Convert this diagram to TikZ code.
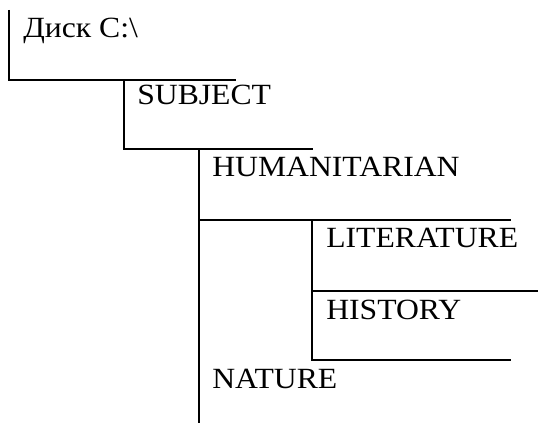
\documentclass[tikz,border=0pt]{standalone}
\usepackage{fontspec}
\setmainfont[FakeStretch=1.08]{Liberation Serif}
\usepackage{tikz}

\tikzset{
  folder/.style={anchor=base west, inner sep=0pt, font=\fontsize{22}{26}\selectfont},
  branch/.style={line width=1.6pt}
}

\begin{document}
\begin{tikzpicture}[x=0.75pt,y=-0.75pt]
        \useasboundingbox (0,0) rectangle (538,423);
        \node[folder] (disk) at (23,38) {Диск C:\textbackslash};
        \node[folder] (subject) at (137,105) {SUBJECT};
        \node[folder] (human) at (212,177) {HUMANITARIAN};
        \node[folder] (lit) at (326,248) {LITERATURE};
        \node[folder] (hist) at (326,320) {HISTORY};
        \node[folder] (nature) at (212,388) {NATURE};

        \coordinate (disktop) at (9,10);
        \coordinate (diskbot) at (9,80);
        \coordinate (diskend) at (236,80);
        \coordinate (subbot) at (124,149);
        \coordinate (subend) at (313,149);
        \coordinate (humbot) at (199,423);
        \coordinate (humsplit) at (199,220);
        \coordinate (humend) at (511,220);
        \coordinate (litsplit) at (312,291);
        \coordinate (litmid) at (538,291);
        \coordinate (litbot) at (312,360);
        \coordinate (litend) at (511,360);

        \draw[branch] (disktop) -- (diskbot) -- (diskend);
        \draw[branch] (subbot |- diskbot) -- (subbot) -- (subend);
        \draw[branch] (humbot |- subbot) -- (humbot);
        \draw[branch] (humsplit) -- (humend);
        \draw[branch] (litbot |- humsplit) -- (litbot) -- (litend);
        \draw[branch] (litsplit) -- (litmid);
    \end{tikzpicture}
\end{document}
